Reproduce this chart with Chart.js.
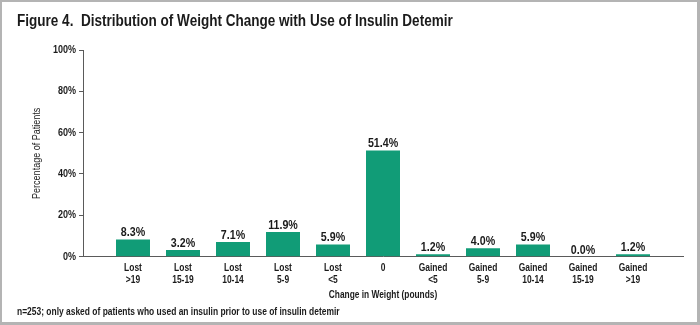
<!DOCTYPE html>
<html>
<head>
<meta charset="utf-8">
<title>Weight change with insulin detemir</title>
<script src="https://cdn.jsdelivr.net/npm/chart.js@4/dist/chart.umd.min.js"></script>
<style>
  html, body { margin: 0; padding: 0; background: #fff; }
  #wrap { width: 700px; height: 325px; }
</style>
</head>
<body>
<div id="wrap"><canvas id="weightChart" width="700" height="325"></canvas></div>
<script>
/* global Chart */
const categories = [
  ["Lost", ">19"], ["Lost", "15-19"], ["Lost", "10-14"], ["Lost", "5-9"], ["Lost", "<5"],
  "0",
  ["Gained", "<5"], ["Gained", "5-9"], ["Gained", "10-14"], ["Gained", "15-19"], ["Gained", ">19"],
];
const percentages = [8.3, 3.2, 7.1, 11.9, 5.9, 51.4, 1.2, 4.0, 5.9, 0.0, 1.2];
const yTicks = [0, 20, 40, 60, 80, 100];

const titleText = "Figure 4.  Distribution of Weight Change with Use of Insulin Detemir";
const footnote = "n=253; only asked of patients who used an insulin prior to use of insulin detemir";

const barColor = "#119c77";
const inkColor = "#1b1b1b";
const axisColor = "#5a5a5a";

Chart.defaults.font.family = "'Liberation Sans', Arial, sans-serif";
Chart.defaults.color = inkColor;

// no narrow face installed, so squeeze every glyph run sideways to get a condensed look
const NARROW = 0.82;
const plainFillText = CanvasRenderingContext2D.prototype.fillText;
CanvasRenderingContext2D.prototype.fillText = function (text, x, y, maxWidth) {
  this.save();
  this.translate(x, y);
  this.scale(NARROW, 1);
  if (maxWidth === undefined) {
    plainFillText.call(this, text, 0, 0);
  } else {
    plainFillText.call(this, text, 0, 0, maxWidth / NARROW);
  }
  this.restore();
};

// blank slots at both ends give the half-category gap next to each axis end
const labels = ["", ...categories, ""];
const values = [null, ...percentages, null];

// percentage printed above every bar
const valueLabels = {
  id: "valueLabels",
  afterDatasetsDraw(chart) {
    const ctx = chart.ctx;
    const meta = chart.getDatasetMeta(0);
    ctx.save();
    ctx.font = "bold 13px " + Chart.defaults.font.family;
    ctx.fillStyle = inkColor;
    ctx.textAlign = "center";
    ctx.textBaseline = "alphabetic";
    meta.data.forEach((bar, i) => {
      const v = values[i];
      if (v == null) return;
      ctx.fillText(v.toFixed(1) + "%", bar.x, bar.y - 3);
    });
    ctx.restore();
  },
};

// thin grey frame round the figure
const frame = {
  id: "frame",
  beforeDraw(chart) {
    const ctx = chart.ctx;
    ctx.save();
    ctx.fillStyle = "#fff";
    ctx.fillRect(0, 0, chart.width, chart.height);
    ctx.strokeStyle = "#b4b4b4";
    ctx.lineWidth = 3;
    ctx.strokeRect(0.5, 0.5, chart.width - 2, chart.height - 2);
    ctx.restore();
  },
};

new Chart(document.getElementById("weightChart"), {
  type: "bar",
  data: {
    labels: labels,
    datasets: [
      {
        data: values,
        backgroundColor: barColor,
        borderWidth: 0,
        barPercentage: 0.68,
        categoryPercentage: 1,
      },
    ],
  },
  options: {
    responsive: false,
    animation: false,
    layout: {
      padding: { left: 17, right: 17, top: 0, bottom: 0 },
    },
    scales: {
      x: {
        offset: false,
        grid: { display: false, drawTicks: false },
        border: { display: true, color: axisColor, width: 1 },
        ticks: {
          autoSkip: false,
          maxRotation: 0,
          padding: 5,
          color: inkColor,
          font: { size: 10.3, weight: "bold", lineHeight: 1.17 },
        },
        title: {
          display: true,
          text: "Change in Weight (pounds)",
          color: inkColor,
          font: { size: 10.2, weight: "bold", lineHeight: 1.2 },
          padding: { top: 0, bottom: 4 },
        },
        afterFit(scale) {
          scale.height = 49;
        },
      },
      y: {
        min: 0,
        max: 100,
        afterBuildTicks(scale) {
          scale.ticks = yTicks.map((v) => ({ value: v }));
        },
        grid: {
          drawOnChartArea: false,
          drawTicks: true,
          tickLength: 4,
          color: axisColor,
        },
        border: { display: true, color: axisColor, width: 1 },
        ticks: {
          padding: 3,
          color: inkColor,
          font: { size: 11, weight: "bold" },
          callback: (v) => v + "%",
        },
        title: {
          display: true,
          text: "Percentage of Patients",
          color: inkColor,
          font: { size: 11, weight: "normal", lineHeight: 1.2 },
          padding: { top: 13, bottom: 0 },
        },
        afterFit(scale) {
          scale.width = 66;
        },
      },
    },
    plugins: {
      legend: { display: false },
      tooltip: { enabled: false },
      title: {
        display: true,
        text: titleText,
        align: "start",
        color: inkColor,
        font: { size: 16.5, weight: "bold", lineHeight: 1.2 },
        padding: { top: 12, bottom: 18.2 },
      },
      subtitle: {
        display: true,
        position: "bottom",
        text: footnote,
        align: "start",
        color: inkColor,
        font: { size: 10.3, weight: "bold", lineHeight: 1.2 },
        padding: { top: 0, bottom: 7 },
      },
    },
  },
  plugins: [frame, valueLabels],
});
</script>
</body>
</html>
